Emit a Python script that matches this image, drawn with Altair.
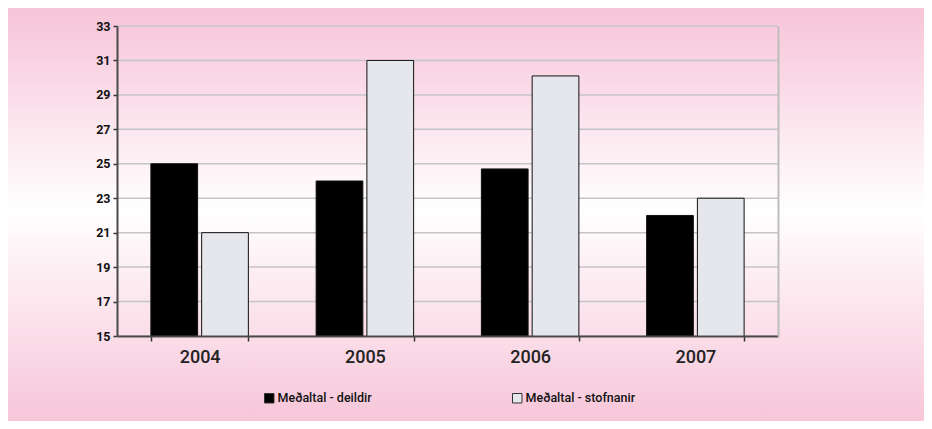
import altair as alt
import pandas as pd

years = ["2004", "2005", "2006", "2007"]
series_names = ["Meðaltal - deildir", "Meðaltal - stofnanir"]
deildir = [25, 24, 24.7, 22]
stofnanir = [21, 31, 30.1, 23]
y_ticks = [15, 17, 19, 21, 23, 25, 27, 29, 31, 33]

rows = []
for i, yr in enumerate(years):
    rows.append({"year": yr, "series": series_names[0], "value": deildir[i]})
    rows.append({"year": yr, "series": series_names[1], "value": stofnanir[i]})
df = pd.DataFrame(rows)
grid_df = pd.DataFrame({"tick": y_ticks})

W, H = 661, 310
FONT = "Roboto"
yscale = alt.Scale(domain=[15, 33], nice=False, zero=False)

bg = alt.Chart(alt.Data(values=[{}])).mark_rect(
    fill=alt.LinearGradient(
        gradient="linear",
        stops=[
            alt.GradientStop(color="#F7C4D8", offset=0),
            alt.GradientStop(color="#FFFFFF", offset=0.49),
            alt.GradientStop(color="#F7C6D9", offset=1),
        ],
        x1=0, x2=0, y1=0, y2=1,
    )
).encode(
    x=alt.value(-109), x2=alt.value(807), y=alt.value(-18), y2=alt.value(395)
)

grid = alt.Chart(grid_df).mark_rule(color="#C4C4C8", strokeWidth=1.5).encode(
    y=alt.Y(
        "tick:Q", scale=yscale,
        axis=alt.Axis(
            orient="right", title=None, labels=False, ticks=False, grid=False,
            domainColor="#BDBDBD", domainWidth=2, zindex=1,
        ),
    )
)

bars = alt.Chart(df).mark_bar(stroke="#111111", strokeWidth=1, clip=True).encode(
    x=alt.X(
        "year:N",
        sort=years,
        scale=alt.Scale(paddingInner=0.41, paddingOuter=0.205),
        axis=alt.Axis(
            title=None, labelAngle=0, labelFontSize=18, labelFont=FONT,
            labelFontWeight=500, labelColor="#222222", labelPadding=7,
            tickBand="extent", tickSize=5, tickColor="#333333", tickWidth=1.5,
            domainColor="#4A4A4A", domainWidth=2, grid=False, zindex=1,
        ),
    ),
    xOffset=alt.XOffset(
        "series:N", sort=series_names,
        scale=alt.Scale(paddingInner=0.08, paddingOuter=0),
    ),
    y=alt.Y(
        "value:Q",
        scale=yscale,
        axis=alt.Axis(
            title=None, values=y_ticks, labelFontSize=12.5, labelFont=FONT,
            labelFontWeight="bold", labelColor="#111111", labelPadding=3,
            tickSize=4, tickColor="#333333", tickWidth=1.5,
            domainColor="#4A4A4A", domainWidth=2, grid=False, zindex=1,
        ),
    ),
    color=alt.Color(
        "series:N",
        sort=series_names,
        scale=alt.Scale(domain=series_names, range=["#000000", "#E6E7EC"]),
        legend=alt.Legend(
            title=None, orient="none", legendX=146, legendY=366,
            direction="horizontal", columns=2, gridAlign="all",
            columnPadding=122, symbolType="square", symbolSize=90,
            symbolStrokeColor="#333333", symbolStrokeWidth=1,
            labelFont=FONT, labelFontSize=12.5, labelFontWeight=500,
            labelColor="#111111", labelOffset=2,
        ),
    ),
)

chart = alt.layer(bg, grid, bars).resolve_axis(y="independent").properties(
    width=W, height=H, padding=0, background="white"
).configure_view(
    stroke=None
)

chart.save("out.html", embed_options={"renderer": "svg", "actions": False})
